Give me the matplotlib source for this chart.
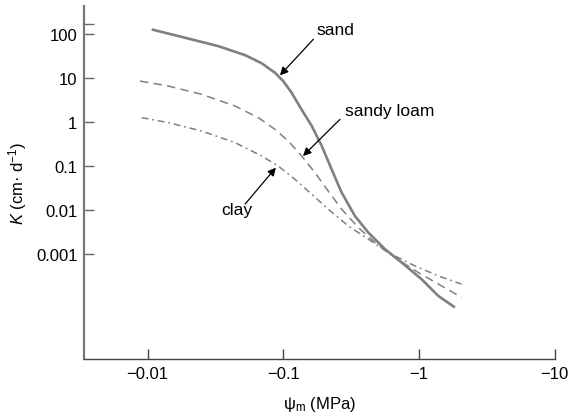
import numpy as np
import matplotlib
matplotlib.use("Agg")
import matplotlib.pyplot as plt

plt.rcParams['font.family'] = ['Liberation Sans', 'DejaVu Sans']
plt.rcParams['mathtext.fontset'] = 'custom'
plt.rcParams['mathtext.rm'] = 'Liberation Sans'
plt.rcParams['mathtext.it'] = 'Liberation Sans:italic'

# Data: matric potential (MPa) and hydraulic conductivity K (cm/d)
sand_psi = [-0.0107, -0.0188, -0.0331, -0.0521, -0.0692, -0.0867, -0.0998, -0.115,
            -0.136, -0.162, -0.192, -0.227, -0.269, -0.337, -0.423, -0.561,
            -0.745, -1.045, -1.386, -1.84]
sand_K = [126.5, 82, 52.8, 33.0, 21.5, 13.1, 8.45, 4.61, 1.92, 0.804, 0.282,
          0.0832, 0.0246, 0.00723, 0.00303, 0.00127, 0.000631, 0.000263,
          0.00011, 0.0000598]

loam_psi = [-0.00877, -0.0142, -0.025, -0.044, -0.0653, -0.0867, -0.1087, -0.1365,
            -0.171, -0.214, -0.269, -0.357, -0.473, -0.664, -0.986, -1.468, -2.06]
loam_K = [8.45, 6.52, 4.22, 2.29, 1.245, 0.676, 0.366, 0.167, 0.070, 0.0267,
          0.0103, 0.00394, 0.0018, 0.00082, 0.000374, 0.000185, 0.000101]

clay_psi = [-0.00903, -0.0142, -0.025, -0.044, -0.0692, -0.0916, -0.1217, -0.162,
            -0.214, -0.301, -0.423, -0.593, -0.933, -1.386, -2.06]
clay_K = [1.245, 0.959, 0.618, 0.337, 0.167, 0.0989, 0.0493, 0.0225, 0.0103,
          0.00428, 0.00214, 0.00106, 0.000528, 0.000313, 0.000203]

x_ticks = [-0.01, -0.1, -1, -10]
x_tick_labels = ['\u22120.01', '\u22120.1', '\u22121', '\u221210']
y_ticks = [0.001, 0.01, 0.1, 1, 10, 100]
y_tick_labels = ['0.001', '0.01', '0.1', '1', '10', '100']

fig = plt.figure(figsize=(5.7, 4.14), dpi=100)
ax = fig.add_axes([0.148, 0.130, 0.825, 0.852])

curve_color = '#808080'
ax.plot(-np.array(sand_psi), sand_K, color=curve_color, lw=1.9,
        solid_joinstyle='round', solid_capstyle='butt')
ax.plot(-np.array(loam_psi), loam_K, color=curve_color, lw=1.1,
        dashes=(5.5, 3.5), dash_joinstyle='round')
ax.plot(-np.array(clay_psi), clay_K, color=curve_color, lw=1.1,
        dashes=(4.5, 2.5, 1.2, 2.5), dash_joinstyle='round')

ax.set_xscale('log')
ax.set_yscale('log')
ax.set_xlim(10 ** -2.467, 10 ** 1.0)
ax.set_ylim(10 ** -5.4, 10 ** 2.625)

ax.set_xticks([-t for t in x_ticks])
ax.set_xticklabels(x_tick_labels)
ax.set_yticks(y_ticks + [10 ** 2.23])
ax.set_yticklabels(y_tick_labels + [''])
ax.minorticks_off()

for s in ['top', 'right']:
    ax.spines[s].set_visible(False)
ax.spines['left'].set_color('#777777')
ax.spines['left'].set_linewidth(1.6)
ax.spines['bottom'].set_color('#444444')
ax.spines['bottom'].set_linewidth(1.0)

ax.tick_params(axis='y', direction='in', length=7, width=1.0, color='#666666',
               labelsize=12, pad=5)
ax.tick_params(axis='x', direction='in', length=7, width=1.0, color='#444444',
               labelsize=12, pad=5)

ax.set_xlabel('\u03c8$_{\\rm m}$ (MPa)', fontsize=12, labelpad=9)
ax.set_ylabel('$K$ (cm\u00b7 d$^{-1}$)', fontsize=12, labelpad=5)

arrow = dict(arrowstyle='-|>', color='black', lw=0.9, mutation_scale=12,
             shrinkA=0, shrinkB=0)
# sand
ax.annotate('', xy=(0.0944, 11.4), xycoords='data', xytext=(0.487, 0.907),
            textcoords='axes fraction', arrowprops=arrow)
ax.text(0.494, 0.936, 'sand', transform=ax.transAxes, fontsize=12.5,
        ha='left', va='center')
# sandy loam
ax.annotate('', xy=(0.1396, 0.167), xycoords='data', xytext=(0.5436, 0.680),
            textcoords='axes fraction', arrowprops=arrow)
ax.text(0.554, 0.706, 'sandy loam', transform=ax.transAxes, fontsize=12.5,
        ha='left', va='center')
# clay
ax.annotate('', xy=(0.0881, 0.091), xycoords='data', xytext=(0.342, 0.440),
            textcoords='axes fraction', arrowprops=arrow)
ax.text(0.292, 0.4236, 'clay', transform=ax.transAxes, fontsize=12.5,
        ha='left', va='center')

fig.savefig('out.png', dpi=100)
